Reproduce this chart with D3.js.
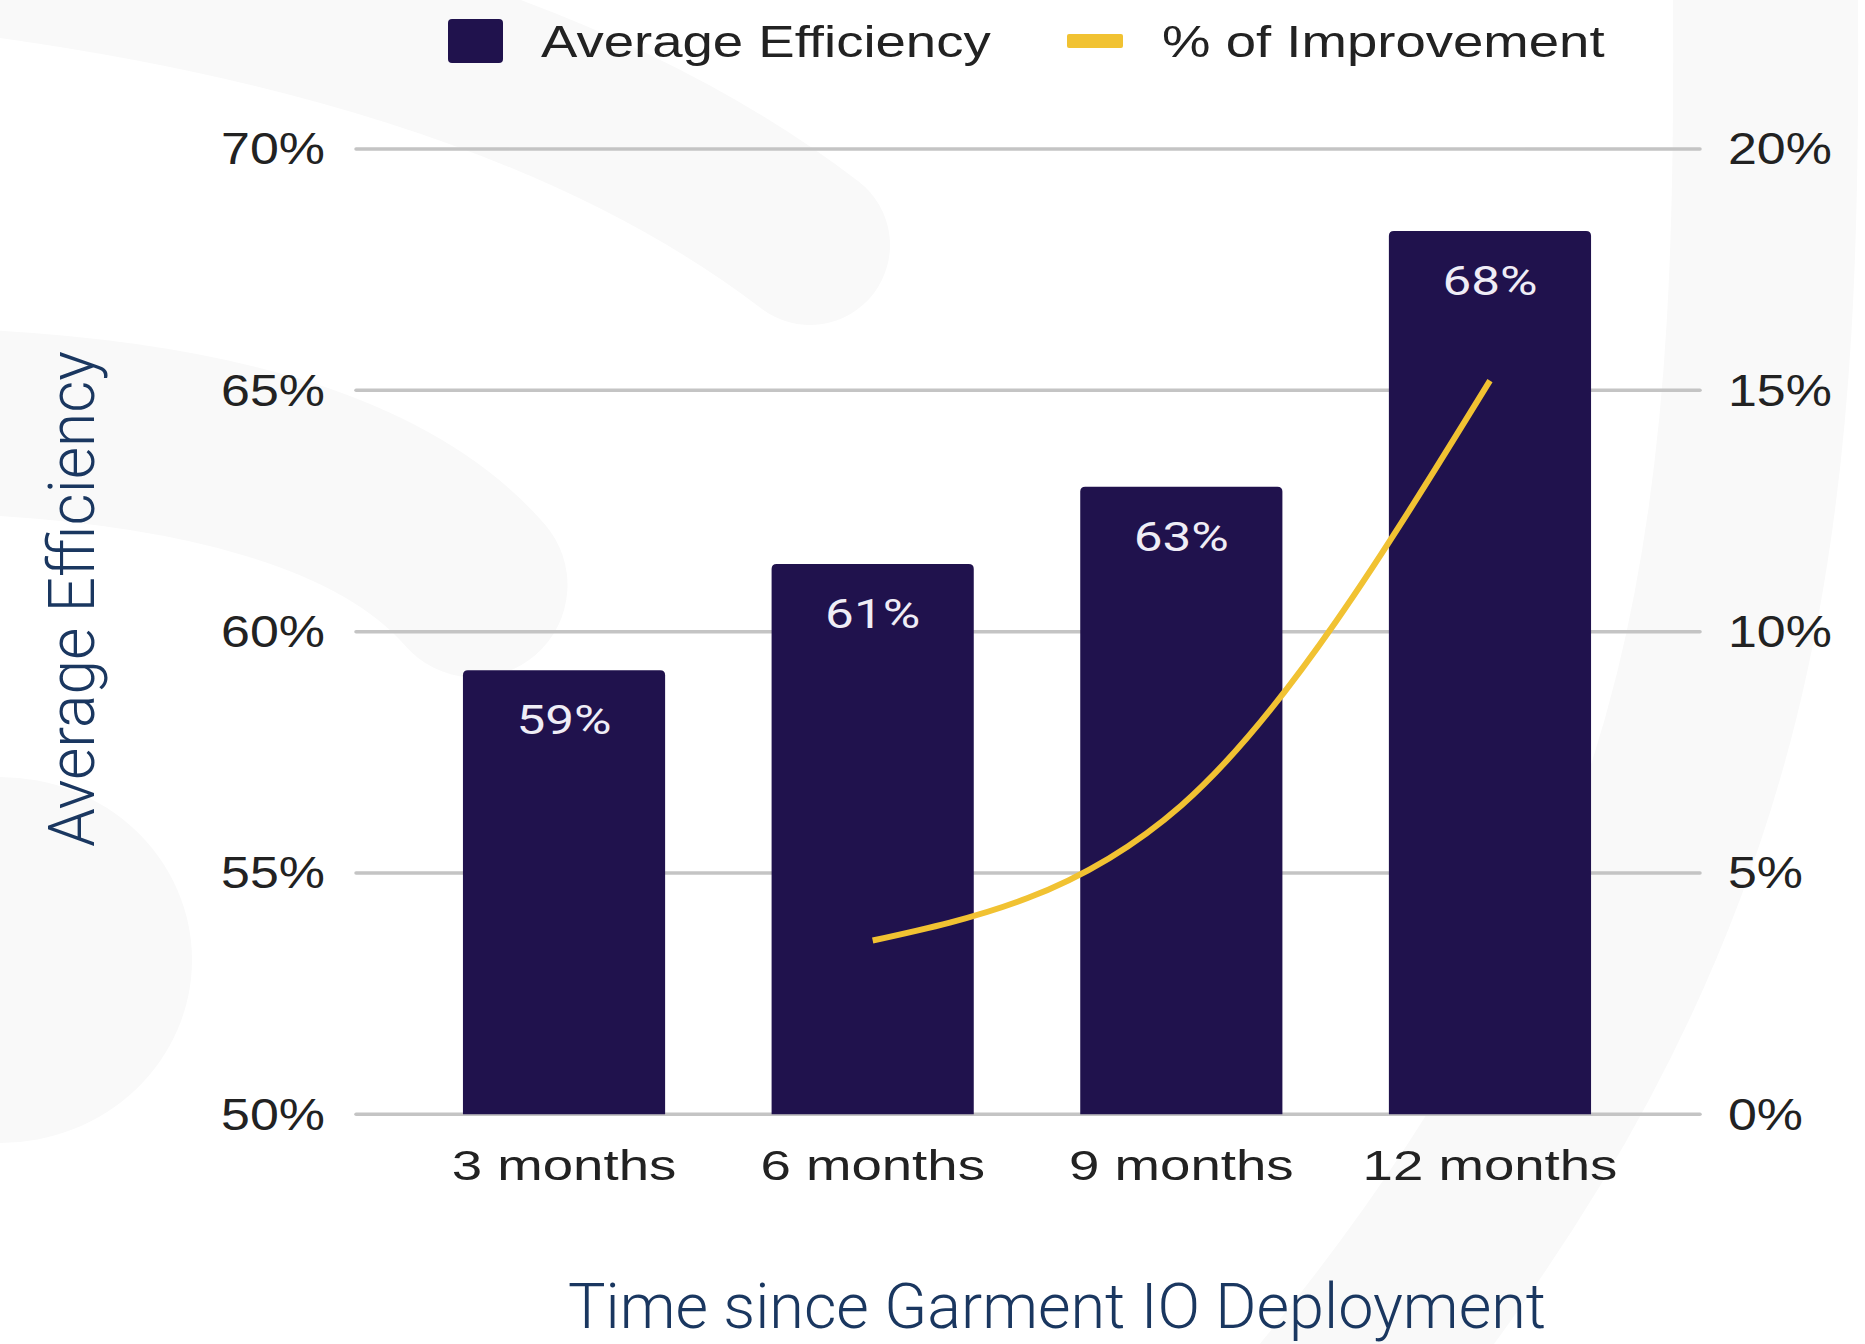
<!DOCTYPE html>
<html><head><meta charset="utf-8">
<script src="https://cdn.jsdelivr.net/npm/d3@7"></script>
<style>html,body{margin:0;padding:0;background:#fff;} svg{display:block;}</style>
</head><body>
<svg id="chart" width="1865" height="1344"></svg>
<script>
// ---- data ----
const categories = ["3 months", "6 months", "9 months", "12 months"];
const efficiency = [59.2, 61.4, 63.0, 68.3];
const efficiencyLabels = ["59%", "61%", "63%", "68%"];
const improvement = [null, 3.6, 6.4, 15.2];
const leftTicks = [50, 55, 60, 65, 70];
const rightTicks = [0, 5, 10, 15, 20];
const legendLabels = ["Average Efficiency", "% of Improvement"];
const xTitle = "Time since Garment IO Deployment";
const yTitle = "Average Efficiency";

// ---- setup ----
const W = 1865, H = 1344;
const barColor = "#20124d", lineColor = "#f1c232", titleColor = "#1a3760";
const svg = d3.select("#chart");

function stretch(sel, sx) {
  sel.each(function () {
    const t = d3.select(this);
    const x = +t.attr("x") || 0, y = +t.attr("y") || 0;
    t.attr("x", null).attr("y", null)
     .attr("transform", `translate(${x},${y}) scale(${sx},1)`);
  });
}

// background decoration
const bg = svg.append("g");
bg.append("rect").attr("width", W).attr("height", H).attr("fill", "#ffffff");
const deco = "#f9f9f9";
const decoStrokes = [
  { d: "M -150 -60 Q 490 0 810 245", w: 160 },
  { d: "M -80 420 Q 340 430 475 585", w: 185 },
  { d: "M 1765 -80 C 1770 500, 1760 900, 1300 1440", w: 185 }
];
decoStrokes.forEach(s => bg.append("path").attr("d", s.d).attr("fill", "none")
  .attr("stroke", deco).attr("stroke-width", s.w).attr("stroke-linecap", "round"));
bg.append("ellipse").attr("cx", 0).attr("cy", 960).attr("rx", 192).attr("ry", 183).attr("fill", deco);

// scales
const x = d3.scaleBand().domain(categories).range([354, 1700]).paddingInner(0.345).paddingOuter(0.353);
const yL = d3.scaleLinear().domain([50, 70]).range([1114.3, 149]);
const yR = d3.scaleLinear().domain([0, 20]).range([1114.3, 149]);

// gridlines
svg.append("g").selectAll("line").data(leftTicks).join("line")
  .attr("x1", 356).attr("x2", 1700)
  .attr("y1", d => yL(d)).attr("y2", d => yL(d))
  .attr("stroke", "#c4c4c4").attr("stroke-width", 3.5).attr("stroke-linecap", "round");

// bars
function barPath(x0, y0, w, h, r) {
  return `M${x0},${y0 + h}V${y0 + r}Q${x0},${y0} ${x0 + r},${y0}H${x0 + w - r}Q${x0 + w},${y0} ${x0 + w},${y0 + r}V${y0 + h}Z`;
}
const bars = categories.map((c, i) => ({ c, v: efficiency[i], label: efficiencyLabels[i] }));
svg.append("g").selectAll("path").data(bars).join("path")
  .attr("d", d => barPath(x(d.c), yL(d.v), x.bandwidth(), yL(50) - yL(d.v), 5))
  .attr("fill", barColor);

// bar labels
const bl = svg.append("g").selectAll("text").data(bars).join("text")
  .attr("x", d => x(d.c) + x.bandwidth() / 2)
  .attr("y", d => yL(d.v) + 64)
  .attr("text-anchor", "middle")
  .attr("font-family", "Roboto, 'Open Sans', sans-serif")
  .attr("font-size", 41)
  .attr("fill", "#efedf6")
  .text(d => d.label);
stretch(bl, 1.25);

// improvement line
const line = d3.line()
  .defined(d => d != null)
  .x((d, i) => x(categories[i]) + x.bandwidth() / 2)
  .y(d => yR(d))
  .curve(d3.curveMonotoneX);
svg.append("path").datum(improvement)
  .attr("d", line).attr("fill", "none")
  .attr("stroke", lineColor).attr("stroke-width", 6);

// axes
const tickFont = "'Liberation Sans', Arial, sans-serif";
const axL = svg.append("g").attr("transform", "translate(325,0)")
  .call(d3.axisLeft(yL).tickValues(leftTicks).tickSize(0).tickPadding(0).tickFormat(d => d + "%"));
axL.select(".domain").remove();
const tl = axL.selectAll("text").attr("font-family", tickFont).attr("font-size", 44)
  .attr("fill", "#222").attr("dy", "0.34em");
stretch(tl, 1.18);

const axR = svg.append("g").attr("transform", "translate(1728,0)")
  .call(d3.axisRight(yR).tickValues(rightTicks).tickSize(0).tickPadding(0).tickFormat(d => d + "%"));
axR.select(".domain").remove();
const tr = axR.selectAll("text").attr("font-family", tickFont).attr("font-size", 44)
  .attr("fill", "#222").attr("dy", "0.34em");
stretch(tr, 1.18);

const axB = svg.append("g").attr("transform", `translate(0,${yL(50)})`)
  .call(d3.axisBottom(x).tickSize(0).tickPadding(0));
axB.select(".domain").remove();
const tb = axB.selectAll("text").attr("font-family", tickFont).attr("font-size", 43)
  .attr("fill", "#222").attr("y", 66).attr("dy", 0);
stretch(tb, 1.27);

// axis titles
svg.append("text")
  .attr("transform", "translate(94,599) rotate(-90)")
  .attr("text-anchor", "middle")
  .attr("font-family", "Roboto, sans-serif").attr("font-weight", 300)
  .attr("font-size", 64).attr("fill", titleColor)
  .attr("textLength", 496).attr("lengthAdjust", "spacingAndGlyphs")
  .text(yTitle);
svg.append("text")
  .attr("x", 1057).attr("y", 1328)
  .attr("text-anchor", "middle")
  .attr("font-family", "Roboto, sans-serif").attr("font-weight", 300)
  .attr("font-size", 63).attr("fill", titleColor)
  .attr("textLength", 978).attr("lengthAdjust", "spacingAndGlyphs")
  .text(xTitle);

// legend
const lg = svg.append("g");
lg.append("rect").attr("x", 448).attr("y", 19).attr("width", 55).attr("height", 44).attr("rx", 4).attr("fill", barColor);
lg.append("rect").attr("x", 1067).attr("y", 34).attr("width", 56).attr("height", 14).attr("rx", 2).attr("fill", lineColor);
const lt = lg.selectAll("text").data(legendLabels).join("text")
  .attr("x", (d, i) => i === 0 ? 541 : 1162)
  .attr("y", 57)
  .attr("font-family", tickFont).attr("font-size", 44).attr("fill", "#222")
  .text(d => d);
stretch(lt, 1.24);
</script>
</body></html>
